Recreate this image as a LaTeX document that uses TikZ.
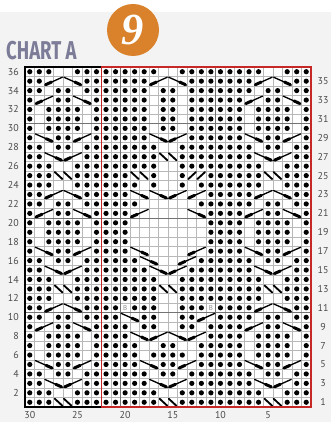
\documentclass[tikz,border=0pt]{standalone}
\usepackage{fontspec}
\setmainfont{PT Sans}
\newfontfamily\titlefont{Fira Sans}
\newfontfamily\badgefont{Liberation Serif}
\usepackage{xcolor}
\usetikzlibrary{positioning}

\definecolor{bgcol}{HTML}{F3F3F3}
\definecolor{titlecol}{HTML}{7C7B98}
\definecolor{badgecol}{HTML}{D9822B}
\definecolor{framered}{HTML}{C62828}
\definecolor{labcol}{HTML}{4A4A4A}

% side panel motif, 12 row repeat (phase 0 = top row)
\expandafter\def\csname side0\endcsname{o,o,o,.,.,o,o,o}
\expandafter\def\csname side1\endcsname{o,o,A,-,B,-,o,o}
\expandafter\def\csname side2\endcsname{o,o,.,o,o,.,o,o}
\expandafter\def\csname side3\endcsname{o,A,-,o,o,B,-,o}
\expandafter\def\csname side4\endcsname{o,.,o,o,o,o,.,o}
\expandafter\def\csname side5\endcsname{o,.,o,o,o,o,.,o}
\expandafter\def\csname side6\endcsname{o,.,o,o,o,o,.,o}
\expandafter\def\csname side7\endcsname{o,B,-,o,o,A,-,o}
\expandafter\def\csname side8\endcsname{o,o,.,o,o,.,o,o}
\expandafter\def\csname side9\endcsname{o,o,B,-,A,-,o,o}
\expandafter\def\csname side10\endcsname{o,o,o,.,.,o,o,o}
\expandafter\def\csname side11\endcsname{o,o,o,X,-,o,o,o}

\begin{document}
\begin{tikzpicture}[x=0.3mm,y=-0.3mm,
	gridline/.style={draw=black!28, line width=0.14mm},
	tenline/.style={draw=black!55, line width=0.22mm},
	cableline/.style={line width=0.4mm, line cap=round},
	cablebar/.style={line width=0.9mm, line cap=round},
	crossline/.style={line width=0.55mm, line cap=round},
	rowlab/.style={text=labcol, font=\fontsize{8.5}{9}\selectfont, inner sep=0pt},
	bobble/.style={text=black!45, font=\fontsize{6}{6}\selectfont, inner sep=0pt},
	]

	% page and chart background
	\fill[bgcol] (0,0) rectangle (331,422);
	\fill[white] (0,0) rectangle (331,12);
	\fill[white] (25,67) rectangle (311,407);

	% grid
	\foreach \i in {0,...,30}
		\draw[gridline] ({25+\i*9.533},67) -- ({25+\i*9.533},407);
	\foreach \j in {0,...,36}
		\draw[gridline] (25,{67+\j*9.444}) -- (311,{67+\j*9.444});
	\foreach \i in {10,20}
		\draw[tenline] ({25+\i*9.533},67) -- ({25+\i*9.533},407);
	\foreach \j in {6,16,26}
		\draw[tenline] (25,{67+\j*9.444}) -- (311,{67+\j*9.444});

	% stitches, row by row (centre panel = columns 22 to 9)
	\foreach \r/\midrow in {
		36/{o,o,o,o,o,o,.,.,o,o,o,o,o,o},
		35/{o,o,o,o,o,A,-,B,-,o,o,o,o,o},
		34/{o,o,o,o,o,.,o,o,.,o,o,o,o,o},
		33/{o,o,o,o,o,.,o,o,.,o,o,o,o,o},
		32/{o,o,o,o,o,.,o,o,.,o,o,o,o,o},
		31/{o,o,o,o,o,.,o,o,.,o,o,o,o,o},
		30/{o,o,o,o,o,.,o,o,.,o,o,o,o,o},
		29/{o,o,o,o,o,B,-,A,-,o,o,o,o,o},
		28/{o,o,o,o,o,o,.,.,o,o,o,o,o,o},
		27/{o,o,o,o,o,o,X,-,o,o,o,o,o,o},
		26/{o,o,o,o,o,o,.,.,o,o,o,o,o,o},
		25/{o,o,o,X,-,o,.,.,o,Y,-,o,o,o},
		24/{o,o,o,o,.,o,.,.,o,.,o,o,o,o},
		23/{o,o,o,B,-,B,-,A,-,A,-,o,o,o},
		22/{o,o,o,o,.,.,.,.,.,.,o,o,o,o},
		21/{o,o,o,A,-,.,.,.,.,B,-,o,o,o},
		20/{o,o,o,.,.,.,.,.,.,.,.,o,o,o},
		19/{o,o,o,.,.,.,.,.,.,.,.,o,o,o},
		18/{o,o,o,.,.,.,.,.,.,.,.,o,o,o},
		17/{o,o,o,B,-,.,.,.,.,A,-,o,o,o},
		16/{o,o,o,o,B,-,.,.,A,-,o,o,o,o},
		15/{o,o,o,o,o,B,-,A,-,o,o,o,o,o},
		14/{o,o,o,o,o,o,.,.,o,o,o,o,o,o},
		13/{o,o,o,o,o,o,X,-,o,o,o,o,o,o},
		12/{o,o,o,o,o,o,.,.,o,o,o,o,o,o},
		11/{o,o,b,o,o,o,.,.,o,o,o,b,o,o},
		10/{o,o,B,-,o,o,.,.,o,o,A,-,o,o},
		9/{o,o,o,.,o,o,.,.,o,o,.,o,o,o},
		8/{o,o,o,B,-,A,-,B,-,A,-,o,o,o},
		7/{o,o,o,o,.,.,o,o,.,.,o,o,o,o},
		6/{o,o,o,o,.,o,o,o,o,.,o,o,o,o},
		5/{o,o,o,o,B,-,o,o,A,-,o,o,o,o},
		4/{o,o,o,o,o,.,o,o,.,o,o,o,o,o},
		3/{o,o,o,o,o,B,-,A,-,o,o,o,o,o},
		2/{o,o,o,o,o,o,.,.,o,o,o,o,o,o},
		1/{o,o,o,o,o,o,X,-,o,o,o,o,o,o}} {
		\pgfmathtruncatemacro\p{mod(36-\r,12)}
		\edef\cells{\csname side\p\endcsname,\midrow,\csname side\p\endcsname}
		\pgfmathsetmacro\yt{67+(36-\r)*9.444}
		\foreach \s [count=\i] in \cells {
			\pgfmathsetmacro\xl{25+(\i-1)*9.533}
			\if\s o
				\fill (\xl+4.77,\yt+4.72) circle[radius=2.6];
			\fi
			\if\s A
				\draw[cableline] (\xl+0.8,\yt+8.6) -- (\xl+18.3,\yt+0.8);
				\draw[cablebar] (\xl+1.7,\yt+8.2) -- (\xl+7.5,\yt+5.6);
			\fi
			\if\s B
				\draw[cableline] (\xl+0.8,\yt+0.8) -- (\xl+18.3,\yt+8.6);
				\draw[cablebar] (\xl+11.6,\yt+5.6) -- (\xl+17.4,\yt+8.2);
			\fi
			\if\s X
				\draw[crossline] (\xl+1.2,\yt+1.2) -- (\xl+8.8,\yt+8.2);
				\draw[crossline] (\xl+10.3,\yt+1.2) -- (\xl+17.9,\yt+8.2);
			\fi
			\if\s Y
				\draw[crossline] (\xl+1.2,\yt+8.2) -- (\xl+8.8,\yt+1.2);
				\draw[crossline] (\xl+10.3,\yt+8.2) -- (\xl+17.9,\yt+1.2);
			\fi
			\if\s b
				\node[bobble] (bob-\r-\i) at (\xl+4.77,\yt+4.72) {B};
			\fi
		}
	}

	% frames
	\draw[black, line width=0.45mm] (25,67) rectangle (311,407);
	\draw[framered, line width=0.45mm] (101.3,67) rectangle (311,407);

	% row and stitch numbers
	\foreach \r in {2,4,...,36}
		\node[rowlab, anchor=east] (lab-\r) at (19,{67+(36-\r+0.5)*9.444}) {\r};
	\foreach \r in {1,3,...,35}
		\node[rowlab] (lab-\r) at (323,{67+(36-\r+0.5)*9.444}) {\r};
	\foreach \c in {30,25,...,5}
		\node[rowlab] (st-\c) at ({25+(30-\c+0.5)*9.533},415.5) {\c};

	% heading
	\node[anchor=west, text=titlecol, inner sep=0pt,
		font=\titlefont\bfseries\fontsize{22}{22}\selectfont] (title) at (6,51)
		{\scalebox{0.72}[1]{CHART A}};
	\node[circle, fill=badgecol, minimum size=15.6mm, inner sep=0pt] (badge) at (133,30) {};
	\node[text=white, font=\badgefont\bfseries\itshape\fontsize{38}{38}\selectfont,
		inner sep=0pt] (badge-num) at (badge) {9};
\end{tikzpicture}
\end{document}
